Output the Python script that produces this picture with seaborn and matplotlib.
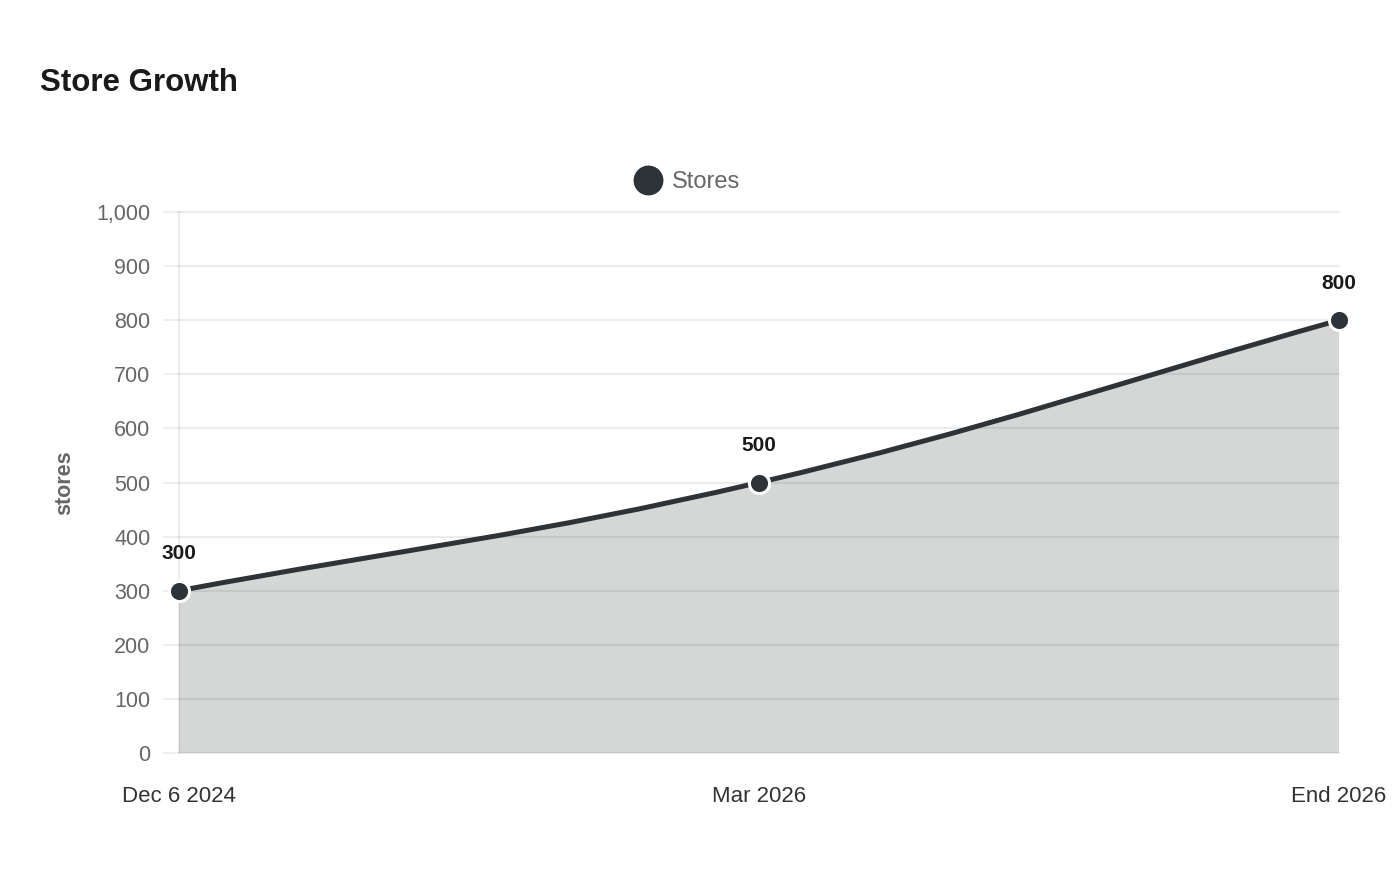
import numpy as np
import matplotlib
matplotlib.use("Agg")
import matplotlib.pyplot as plt
import seaborn as sns
import pandas as pd
from matplotlib.path import Path
from matplotlib.patches import PathPatch
from matplotlib.lines import Line2D
from matplotlib.ticker import FuncFormatter, MultipleLocator

# data
periods = ["Dec 6 2024", "Mar 2026", "End 2026"]
stores = [300, 500, 800]
series_name = "Stores"

LINE = "#2d3336"
GRID_ALPHA = 0.075

sns.set_theme(style="white")
plt.rcParams['font.family'] = ['Liberation Sans', 'DejaVu Sans']

df = pd.DataFrame({"pos": np.arange(len(periods)), "stores": stores, "period": periods})

fig = plt.figure(figsize=(14, 8.8), dpi=100)
W, H = 1400, 880
ax = fig.add_axes([179 / W, 127 / H, 1160 / W, 541 / H])
ax.set_xlim(0, len(periods) - 1)
ax.set_ylim(0, 1000)

# Chart.js style bezier (tension 0.4), computed in pixel space
sx = 1160 / (len(periods) - 1)
sy = 541 / 1000
pts = np.column_stack([df["pos"].values * sx, df["stores"].values * sy])
tension = 0.4
cps = []
for i in range(len(pts)):
    prev = pts[i - 1] if i > 0 else pts[i]
    cur = pts[i]
    nxt = pts[i + 1] if i < len(pts) - 1 else pts[i]
    d01 = np.hypot(*(cur - prev))
    d12 = np.hypot(*(nxt - cur))
    s01 = d01 / (d01 + d12) if (d01 + d12) > 0 else 0
    s12 = d12 / (d01 + d12) if (d01 + d12) > 0 else 0
    cp_prev = cur - tension * s01 * (nxt - prev)
    cp_next = cur + tension * s12 * (nxt - prev)
    cps.append((cp_prev, cp_next))

verts = [pts[0]]
codes = [Path.MOVETO]
for i in range(len(pts) - 1):
    verts += [cps[i][1], cps[i + 1][0], pts[i + 1]]
    codes += [Path.CURVE4] * 3
verts = np.array(verts) / np.array([sx, sy])

line_path = Path(verts, codes)
fill_verts = np.vstack([verts, [[verts[-1][0], 0], [verts[0][0], 0], verts[0]]])
fill_codes = codes + [Path.LINETO, Path.LINETO, Path.CLOSEPOLY]
fill_path = Path(fill_verts, fill_codes)

ax.add_patch(PathPatch(fill_path, facecolor=LINE, alpha=0.2, edgecolor="none", zorder=1))
ax.add_patch(PathPatch(line_path, facecolor="none", edgecolor=LINE, linewidth=3.6,
                       capstyle="round", joinstyle="round", zorder=2))

sns.scatterplot(data=df, x="pos", y="stores", ax=ax, s=210, color=LINE,
                edgecolor="white", linewidth=2.2, zorder=4, legend=False, clip_on=False)

for _, r in df.iterrows():
    ax.annotate(f"{r['stores']:,}", (r["pos"], r["stores"]), xytext=(0, 26.5),
                textcoords="offset points", ha="center", va="center",
                fontsize=15, fontweight="bold", color="#1a1a1a", annotation_clip=False)

# axes styling
ax.set_axisbelow("line")
ax.yaxis.set_major_locator(MultipleLocator(100))
ax.yaxis.set_major_formatter(FuncFormatter(lambda v, p: f"{int(v):,}"))
ax.grid(axis="y", color="black", alpha=GRID_ALPHA, linewidth=1.5)
for gl in ax.get_ygridlines():
    gl.set_clip_on(False)
ax.grid(axis="x", visible=False)
ax.set_xticks(df["pos"])
ax.set_xticklabels(periods)
ax.tick_params(axis="x", length=0, pad=24, labelsize=16, labelcolor="#333333")
ax.tick_params(axis="y", length=11.5, width=1.2, color="#ebebeb", pad=9,
               labelsize=15.5, labelcolor="#666666", left=True)
for side in ["top", "right", "bottom"]:
    ax.spines[side].set_visible(False)
ax.spines["left"].set_color((0, 0, 0, GRID_ALPHA))
ax.spines["left"].set_linewidth(1.5)

ax.set_xlabel("")
ax.set_ylabel("stores", fontsize=15.5, fontweight="bold", color="#666666")
ax.yaxis.set_label_coords(-104 / 1160, 0.5)

handle = Line2D([], [], marker="o", linestyle="none", markersize=20.5,
                markerfacecolor=LINE, markeredgecolor=LINE)
fig.legend([handle], [series_name], loc="center", bbox_to_anchor=(687 / W, 1 - 182 / H),
           frameon=False, fontsize=17, labelcolor="#666666", handletextpad=0.4,
           handlelength=1.2)

fig.text(40 / W, 1 - 91 / H, "Store Growth", fontsize=22.5, fontweight="bold",
         color="#1a1a1a", ha="left", va="baseline")

fig.savefig("out.png", dpi=100, facecolor="white")
